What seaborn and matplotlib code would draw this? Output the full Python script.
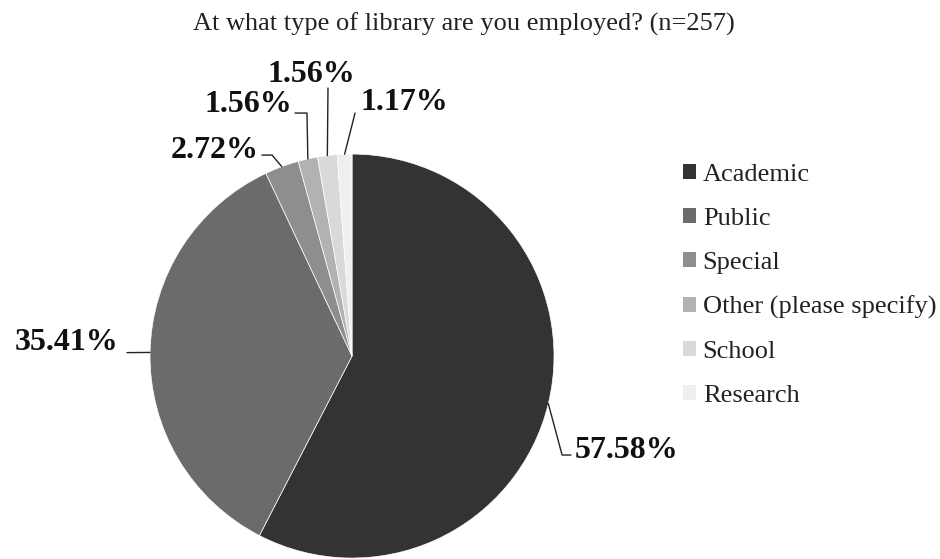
import numpy as np
import matplotlib
matplotlib.use("Agg")
import matplotlib.pyplot as plt
import seaborn as sns
from matplotlib.patches import Patch

sns.set_theme(style="white")
plt.rcParams["font.family"] = ["Liberation Serif", "DejaVu Serif"]

# Survey responses
title = "At what type of library are you employed? (n=257)"
categories = ["Academic", "Public", "Special", "Other (please specify)", "School", "Research"]
percentages = [57.58, 35.41, 2.72, 1.56, 1.56, 1.17]
colors = ["#333333", "#6b6b6b", "#8e8e8e", "#b2b2b2", "#d9d9d9", "#efefef"]

# Leader line bend points and label anchors (axes data units, pie radius = 1)
elbows = [[(1.040, -0.490), (1.084, -0.490)],
          [(-1.114, 0.017)],
          [(-0.396, 0.995), (-0.446, 0.995)],
          [(-0.223, 1.203), (-0.282, 1.203)],
          [(-0.119, 1.327)],
          [(0.015, 1.203)]]
text_pos = [((1.104, -0.470), "left"),
            ((-1.155, 0.065), "right"),
            ((-0.460, 1.020), "right"),
            ((-0.295, 1.245), "right"),
            ((-0.200, 1.395), "center"),
            ((0.040, 1.255), "left")]

fig = plt.figure(figsize=(9.4, 5.59), dpi=100)
ax = fig.add_axes([0.1596, 0.0017, 0.4298, 0.7227])
wedges, _ = ax.pie(percentages, colors=colors, startangle=90, counterclock=False,
                   radius=1.0, wedgeprops=dict(edgecolor="white", linewidth=0.5))
ax.set_xlim(-1, 1)
ax.set_ylim(-1, 1)
ax.set_aspect("equal")
ax.axis("off")

for w, pts, (tp, ha), pct in zip(wedges, elbows, text_pos, percentages):
    ang = np.deg2rad((w.theta1 + w.theta2) / 2)
    start = (np.cos(ang), np.sin(ang))
    xs = [start[0]] + [p[0] for p in pts]
    ys = [start[1]] + [p[1] for p in pts]
    ax.plot(xs, ys, color="#222222", lw=1.0, clip_on=False)
    ax.text(tp[0], tp[1], f"{pct:.2f}%", ha=ha, va="center", fontsize=23,
            fontweight="bold", color="#111111", clip_on=False)

fig.text(0.494, 0.957, title, ha="center", va="center", fontsize=19, color="#222222")

handles = [Patch(facecolor=c, edgecolor="none") for c in colors]
fig.legend(handles, categories, loc="upper left", bbox_to_anchor=(0.7153, 0.726),
           frameon=False, fontsize=19, handlelength=0.5, handleheight=0.5,
           handletextpad=0.25, labelspacing=0.83, borderaxespad=0,
           labelcolor="#222222")

fig.savefig("out.png", dpi=100)
